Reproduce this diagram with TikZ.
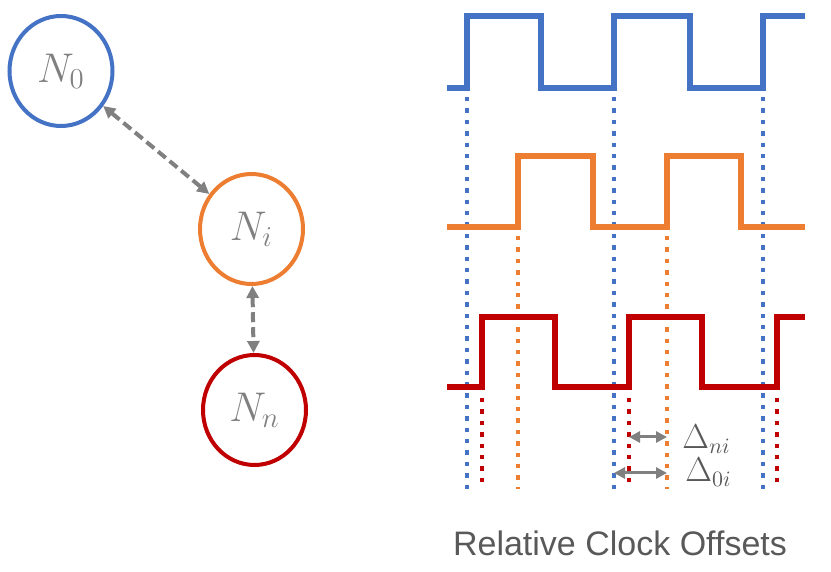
\documentclass[tikz,border=0pt]{standalone}
\usepackage{fontspec}
\usepackage{amsmath}
\setsansfont{Liberation Sans}
\usetikzlibrary{arrows.meta, positioning, shapes.geometric}
\definecolor{clkblue}{RGB}{68,114,196}
\definecolor{clkorange}{RGB}{237,125,49}
\definecolor{clkred}{RGB}{192,0,0}
\definecolor{linkgray}{RGB}{128,128,128}
\definecolor{textgray}{RGB}{89,89,89}

\begin{document}
\begin{tikzpicture}[
  x=0.5pt, y=-0.5pt,
  clock/.style={ellipse, line width=2pt, minimum width=51.5pt, minimum height=55pt,
                inner sep=0pt, text=linkgray, font=\fontsize{21}{23}\selectfont},
  link/.style={{Triangle[length=6pt, width=6pt]}-{Triangle[length=6pt, width=6pt]},
               line width=2pt, linkgray, dash pattern=on 5pt off 2.5pt},
  wave/.style={line width=2.6pt, line join=miter},
  guide/.style={line width=2.2pt, dash pattern=on 2.2pt off 3.5pt},
  offset/.style={{Triangle[length=5.5pt, width=5.5pt]}-{Triangle[length=5.5pt, width=5.5pt]},
                 line width=1.5pt, linkgray},
  dlabel/.style={anchor=west, inner sep=0pt, text=textgray, font=\fontsize{16}{18}\selectfont},
  caption/.style={text=textgray, font=\sffamily\fontsize{17}{20}\selectfont}
]
\useasboundingbox (0,0) rectangle (831,572);

% nodes of the network
\node[clock, draw=clkblue]   (n0) at (61,71)    {$N_0$};
\node[clock, draw=clkorange] (ni) at (251.5,229) {$N_i$};
\node[clock, draw=clkred]    (nn) at (254.5,410) {$N_n$};

\draw[link] (n0) -- (ni);
\draw[link] (ni) -- (nn);

% reference lines at the rising edges
\foreach \gx in {467,614,763} \draw[guide, clkblue] (\gx,97) -- (\gx,489);
\foreach \gx in {518,667} \draw[guide, clkorange] (\gx,236) -- (\gx,489);
\foreach \gx in {482,629,777} \draw[guide, clkred] (\gx,398) -- (\gx,489);

% clock signals
\draw[wave, clkblue] (447,88) -- (467,88) -- (467,16) -- (541,16) -- (541,88) -- (614,88)
  -- (614,16) -- (690,16) -- (690,88) -- (763,88) -- (763,16) -- (805,16);
\draw[wave, clkorange] (447,227) -- (518,227) -- (518,156) -- (593,156) -- (593,227) -- (667,227)
  -- (667,156) -- (741,156) -- (741,227) -- (805,227);
\draw[wave, clkred] (447,387) -- (482,387) -- (482,317) -- (555,317) -- (555,387) -- (629,387)
  -- (629,317) -- (702,317) -- (702,387) -- (777,387) -- (777,317) -- (805,317);

% offsets
\coordinate (dn0) at (629,437);
\coordinate (dn1) at (667,437);
\coordinate (d00) at (614,473);
\coordinate (d01) at (667,473);
\draw[offset] (dn0) -- (dn1);
\draw[offset] (d00) -- (d01);
\node[dlabel] (dni) at (682,439) {$\Delta_{ni}$};
\node[dlabel] (d0i) at (685,472) {$\Delta_{0i}$};

\node[caption] (title) at (620,543) {Relative Clock Offsets};
\end{tikzpicture}
\end{document}
